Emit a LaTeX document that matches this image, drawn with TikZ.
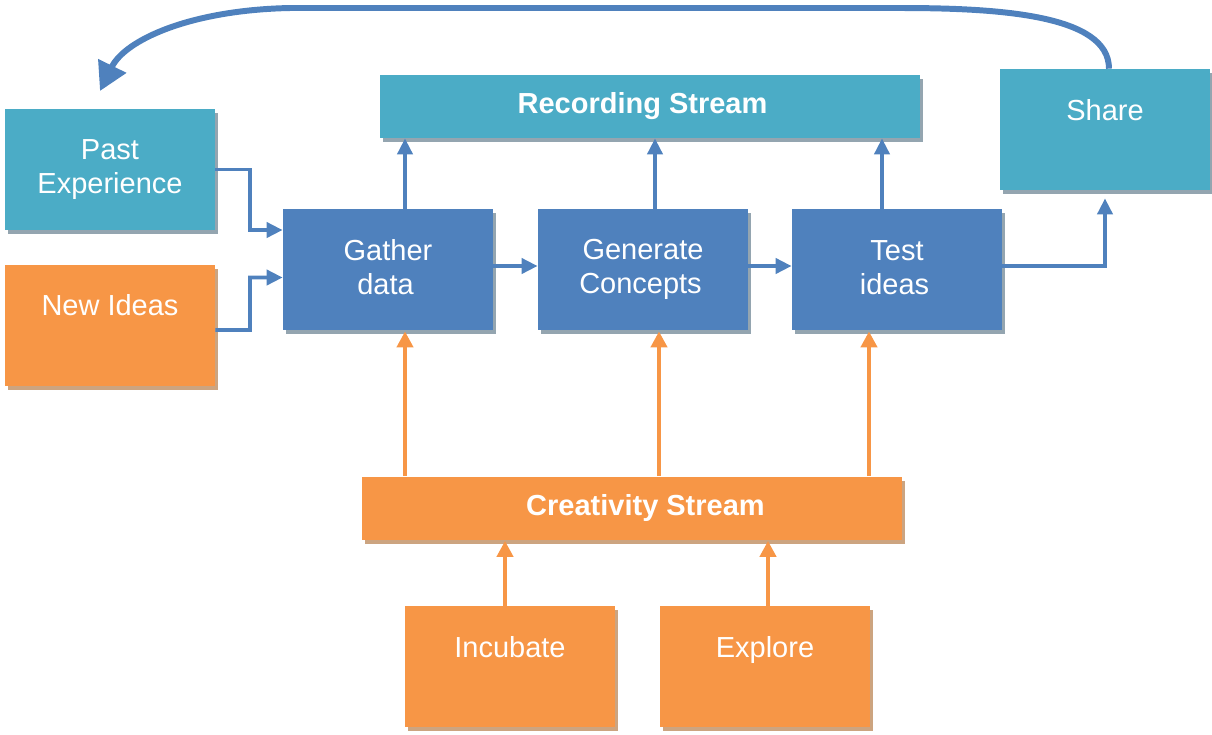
\documentclass[tikz,border=0pt]{standalone}
\usepackage{fontspec}
\setmainfont{Liberation Sans}
\usetikzlibrary{arrows.meta,shadows}

\definecolor{tealbox}{RGB}{75,172,198}
\definecolor{bluebox}{RGB}{79,129,189}
\definecolor{orangebox}{RGB}{247,150,70}
\definecolor{shadowblue}{RGB}{148,165,176}
\definecolor{shadoworange}{RGB}{204,164,128}

\tikzset{
  box/.style={rectangle, minimum width=4.2cm, minimum height=2.42cm, inner sep=0pt,
    text=white, align=center, font=\fontsize{16.5}{19.5}\selectfont},
  stream/.style={box, minimum width=10.8cm, minimum height=1.26cm, font=\fontsize{16.5}{19.5}\selectfont\bfseries},
  tealfill/.style={fill=tealbox, drop shadow={shadow xshift=0.06cm, shadow yshift=-0.08cm, fill=shadowblue, opacity=1}},
  bluefill/.style={fill=bluebox, drop shadow={shadow xshift=0.06cm, shadow yshift=-0.08cm, fill=shadowblue, opacity=1}},
  orangefill/.style={fill=orangebox, drop shadow={shadow xshift=0.06cm, shadow yshift=-0.08cm, fill=shadoworange, opacity=1}},
  highup/.style={text depth=0.8cm},
  bluearrow/.style={draw=bluebox, line width=2.2pt, -{Triangle[length=0.32cm,width=0.3cm]}},
  orangearrow/.style={draw=orangebox, line width=2.5pt, -{Triangle[length=0.32cm,width=0.32cm]}}
}

\begin{document}
\begin{tikzpicture}
      \useasboundingbox (0,0) rectangle (24.24,-14.68);

      % streams
      \node[stream, tealfill] (recording) at (12.99,-2.13) {Recording Stream\hspace*{0.28cm}};
      \node[stream, orangefill] (creativity) at (12.64,-10.16) {\hspace*{0.54cm}Creativity Stream};

      % inputs
      \node[box, tealfill] (past) at (2.2,-3.39) {Past\\Experience};
      \node[box, orangefill, highup] (newideas) at (2.2,-6.5) {New Ideas};

      % main line
      \node[box, bluefill, text depth=0.09cm] (gather) at (7.76,-5.39) {Gather\\data\hspace*{0.1cm}};
      \node[box, bluefill] (generate) at (12.86,-5.39) {Generate\\Concepts\hspace*{0.1cm}};
      \node[box, bluefill, text depth=0.09cm] (test) at (17.94,-5.39) {Test\\ideas\hspace*{0.1cm}};
      \node[box, tealfill, highup] (share) at (22.1,-2.59) {Share};

      % creativity sources
      \node[box, orangefill, highup] (incubate) at (10.2,-13.33) {Incubate};
      \node[box, orangefill, highup] (explore) at (15.3,-13.33) {Explore};

      \coordinate (back) at (2.0,-1.82);

      \draw[bluearrow] (past.east) -| (5.0,-4.6) -- ([yshift=0.79cm]gather.west);
      \draw[bluearrow] ([yshift=-0.1cm]newideas.east) -| (5.0,-5.55) -- ([yshift=-0.16cm]gather.west);

      \draw[bluearrow] ([yshift=0.07cm]gather.east) -- ([yshift=0.07cm]generate.west);
      \draw[bluearrow] ([yshift=0.07cm]generate.east) -- ([yshift=0.07cm]test.west);
      \draw[bluearrow] ([yshift=0.07cm]test.east) -| ([yshift=-0.16cm]share.south);

      \draw[bluearrow] ([xshift=0.34cm]gather.north) -- ([xshift=0.34cm]gather.north |- recording.south);
      \draw[bluearrow] ([xshift=0.24cm]generate.north) -- ([xshift=0.24cm]generate.north |- recording.south);
      \draw[bluearrow] ([xshift=-0.3cm]test.north) -- ([xshift=-0.3cm]test.north |- recording.south);

      \draw[orangearrow] ([xshift=0.34cm]gather.south |- creativity.north) -- ([xshift=0.34cm,yshift=-0.02cm]gather.south);
      \draw[orangearrow] ([xshift=0.32cm]generate.south |- creativity.north) -- ([xshift=0.32cm,yshift=-0.02cm]generate.south);
      \draw[orangearrow] ([xshift=-0.56cm]test.south |- creativity.north) -- ([xshift=-0.56cm,yshift=-0.02cm]test.south);

      \draw[orangearrow] ([xshift=-0.1cm]incubate.north) -- ([xshift=-0.1cm,yshift=-0.02cm]incubate.north |- creativity.south);
      \draw[orangearrow] ([xshift=0.06cm]explore.north) -- ([xshift=0.06cm,yshift=-0.02cm]explore.north |- creativity.south);

      % loop back
      \draw[draw=bluebox, line width=3.4pt, -{Triangle[length=0.56cm,width=0.6cm]}]
        ([xshift=0.08cm]share.north) .. controls (22.18,-0.3) and (20,-0.16) .. (18,-0.16)
        -- (5.8,-0.16) .. controls (3.8,-0.2) and (2.5,-0.8) .. (back);
    \end{tikzpicture}
\end{document}
